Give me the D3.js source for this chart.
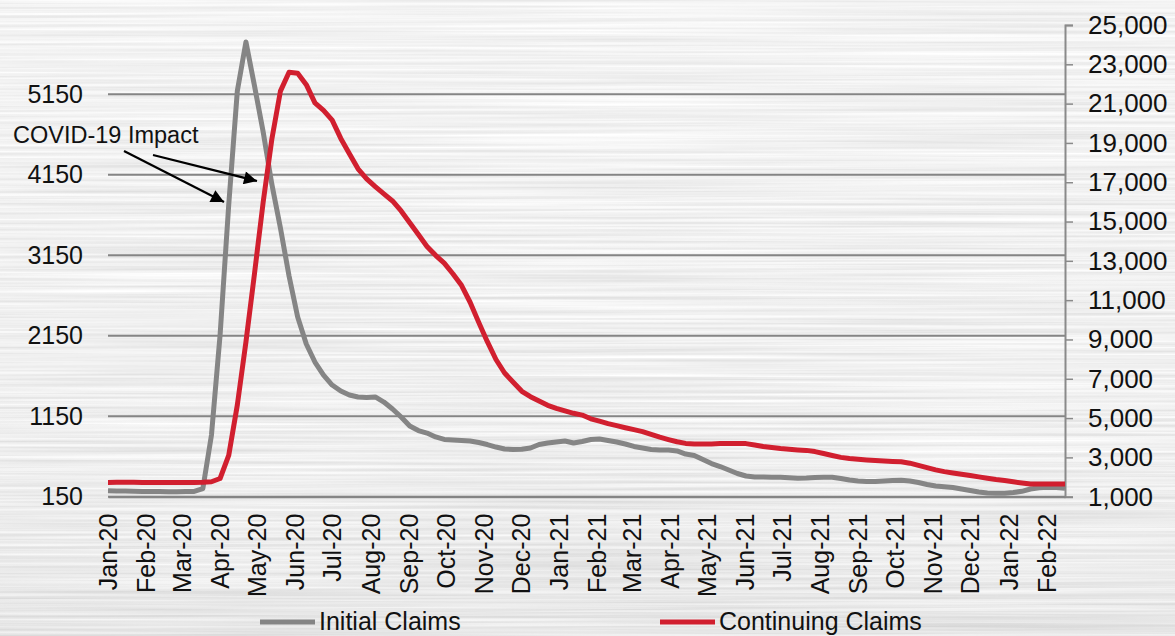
<!DOCTYPE html>
<html>
<head>
<meta charset="utf-8">
<script src="https://cdn.jsdelivr.net/npm/d3@7"></script>
<style>
  html, body { margin: 0; padding: 0; background: #dcdcdc; }
  svg { display: block; }
  text { font-family: "Liberation Sans", Arial, sans-serif; fill: #111; }
</style>
</head>
<body>
<svg id="chart" width="1175" height="636"></svg>
<script>
// Weekly series (4-week averages, thousands), first week starting 2020-01-01
const firstWeek = new Date(2020, 0, 1);

const initialClaims = [
  225, 222, 220, 218, 216, 215, 214, 213, 213, 214, 216, 250,
  916, 2159, 3773, 5190, 5800, 5250, 4680, 4034, 3488, 2892, 2382, 2047,
  1823, 1661, 1537, 1463, 1413, 1389, 1382, 1389, 1326, 1240, 1140, 1028,
  972, 941, 892, 861, 854, 848, 842, 823, 798, 767, 743, 736,
  739, 755, 798, 817, 830, 842, 817, 836, 861, 867, 848, 830,
  805, 774, 755, 736, 730, 730, 718, 680, 662, 612, 562, 525,
  482, 438, 407, 395, 395, 391, 391, 385, 379, 382, 389, 391,
  391, 376, 357, 345, 339, 339, 345, 351, 354, 345, 326, 302,
  283, 273, 264, 246, 227, 208, 196, 192, 192, 202, 217, 246,
  261, 267, 264, 254
];

const continuingClaims = [
  1725, 1730, 1735, 1730, 1728, 1725, 1722, 1722, 1720, 1722, 1725, 1730,
  1760, 1926, 3097, 5667, 8873, 12384, 15997, 19183, 21636, 22600, 22550, 21965,
  21035, 20654, 20159, 19229, 18450, 17682, 17173, 16776, 16405, 16048, 15537, 14934,
  14339, 13733, 13280, 12883, 12344, 11753, 10893, 9870, 8888, 7982, 7295, 6827,
  6364, 6089, 5870, 5651, 5494, 5366, 5244, 5153, 4964, 4842, 4715, 4613,
  4511, 4415, 4313, 4170, 4028, 3906, 3794, 3712, 3687, 3682, 3682, 3702,
  3707, 3712, 3702, 3626, 3550, 3499, 3448, 3412, 3382, 3356, 3295, 3198,
  3097, 3000, 2939, 2903, 2873, 2842, 2817, 2796, 2776, 2705, 2593, 2481,
  2364, 2277, 2206, 2140, 2074, 2008, 1941, 1875, 1819, 1758, 1702, 1646,
  1640, 1640, 1640, 1640
];

const leftTicks = [150, 1150, 2150, 3150, 4150, 5150];
const rightTicks = [1000, 3000, 5000, 7000, 9000, 11000, 13000, 15000, 17000, 19000, 21000, 23000, 25000];
const seriesNames = ["Initial Claims", "Continuing Claims"];
const seriesColors = ["#858585", "#d11f2f"];
const annotationText = "COVID-19 Impact";

const weeks = initialClaims.map((_, i) => d3.timeDay.offset(firstWeek, 7 * i));
const monthTicks = d3.timeMonth.range(new Date(2020, 0, 1), new Date(2022, 1, 2));

const svg = d3.select("#chart");
const W = 1175, H = 636;
const plot = { left: 108, right: 1065, top: 25, bottom: 496.7 };

// ---- brushed metal backdrop ----
const defs = svg.append("defs");
const f = defs.append("filter").attr("id", "brushed")
  .attr("x", 0).attr("y", 0).attr("width", "100%").attr("height", "100%")
  .attr("filterUnits", "userSpaceOnUse");
f.append("feTurbulence").attr("type", "fractalNoise")
  .attr("baseFrequency", "0.0025 0.32").attr("numOctaves", 3).attr("seed", 11)
  .attr("result", "noise");
f.append("feColorMatrix").attr("in", "noise").attr("type", "matrix")
  .attr("values", "0.38 0 0 0 0.68  0.38 0 0 0 0.68  0.38 0 0 0 0.68  0 0 0 0 1");

const shade = defs.append("linearGradient").attr("id", "shade")
  .attr("x1", 0).attr("y1", 0).attr("x2", 0).attr("y2", 1);
shade.append("stop").attr("offset", "0%").attr("stop-color", "#fff").attr("stop-opacity", 0.25);
shade.append("stop").attr("offset", "55%").attr("stop-color", "#fff").attr("stop-opacity", 0.0);
shade.append("stop").attr("offset", "100%").attr("stop-color", "#000").attr("stop-opacity", 0.04);

svg.append("rect").attr("width", W).attr("height", H).attr("fill", "#dadada");
svg.append("rect").attr("width", W).attr("height", H).attr("filter", "url(#brushed)");
svg.append("rect").attr("width", W).attr("height", H).attr("fill", "url(#shade)");

// ---- scales ----
const x = d3.scaleTime()
  .domain([new Date(2020, 0, 1), new Date(2022, 1, 16)])
  .range([plot.left, plot.right]);
const yL = d3.scaleLinear().domain([150, 6010]).range([plot.bottom, plot.top]);
const yR = d3.scaleLinear().domain([1000, 25000]).range([plot.bottom, plot.top]);

// ---- gridlines (left axis) ----
svg.append("g")
  .selectAll("line").data(leftTicks).join("line")
  .attr("x1", plot.left).attr("x2", plot.right)
  .attr("y1", d => yL(d)).attr("y2", d => yL(d))
  .attr("stroke", "#858585").attr("stroke-width", 2);

// ---- left axis labels ----
const leftAxis = d3.axisLeft(yL).tickValues(leftTicks).tickFormat(d3.format("d")).tickSize(0).tickPadding(25);
const gL = svg.append("g").attr("transform", `translate(${plot.left},0)`).call(leftAxis);
gL.select(".domain").remove();
gL.selectAll("text").attr("font-size", 25).attr("font-family", "'Liberation Sans', Arial, sans-serif").attr("fill", "#111");

// ---- right axis ----
const rightAxis = d3.axisRight(yR).tickValues(rightTicks).tickFormat(d3.format(",")).tickSize(8).tickPadding(15);
const gR = svg.append("g").attr("transform", `translate(${plot.right},0)`).call(rightAxis);
gR.select(".domain").attr("stroke", "#8a8a8a").attr("stroke-width", 2);
gR.selectAll(".tick line").attr("stroke", "#8a8a8a").attr("stroke-width", 1.5);
gR.selectAll("text").attr("font-size", 26).attr("font-family", "'Liberation Sans', Arial, sans-serif").attr("fill", "#111");

// ---- bottom axis ----
const bottomAxis = d3.axisBottom(x).tickValues(monthTicks).tickFormat(d3.timeFormat("%b-%y")).tickSize(0);
const gB = svg.append("g").attr("transform", `translate(0,${plot.bottom})`).call(bottomAxis);
gB.select(".domain").attr("stroke", "#858585").attr("stroke-width", 2);
gB.selectAll("text")
  .attr("font-size", 25).attr("font-family", "'Liberation Sans', Arial, sans-serif").attr("fill", "#111")
  .attr("text-anchor", "end")
  .attr("transform", "translate(0,17) rotate(-90)")
  .attr("x", 0).attr("y", 0).attr("dy", "0.35em");

// ---- series lines ----
const lineL = d3.line().x((d, i) => x(weeks[i])).y(d => yL(d));
const lineR = d3.line().x((d, i) => x(weeks[i])).y(d => yR(d));

svg.append("path").datum(initialClaims)
  .attr("d", lineL).attr("fill", "none")
  .attr("stroke", seriesColors[0]).attr("stroke-width", 5)
  .attr("stroke-linejoin", "round").attr("stroke-linecap", "butt");
svg.append("path").datum(continuingClaims)
  .attr("d", lineR).attr("fill", "none")
  .attr("stroke", seriesColors[1]).attr("stroke-width", 5)
  .attr("stroke-linejoin", "round").attr("stroke-linecap", "butt");

// ---- annotation ----
defs.append("marker").attr("id", "arrowHead")
  .attr("viewBox", "0 0 10 10").attr("refX", 10).attr("refY", 5)
  .attr("markerUnits", "userSpaceOnUse")
  .attr("markerWidth", 18).attr("markerHeight", 13).attr("orient", "auto")
  .append("path").attr("d", "M0,0 L10,5 L0,10 Z").attr("fill", "#000");

svg.append("text").text(annotationText)
  .attr("x", 13).attr("y", 143)
  .attr("font-family", "Lato, 'Open Sans', sans-serif")
  .attr("font-size", 23.5).attr("fill", "#000");

const arrows = [
  [[124, 151], [224, 202]],
  [[153, 155], [257, 181]]
];
svg.append("g").selectAll("line").data(arrows).join("line")
  .attr("x1", d => d[0][0]).attr("y1", d => d[0][1])
  .attr("x2", d => d[1][0]).attr("y2", d => d[1][1])
  .attr("stroke", "#000").attr("stroke-width", 2.2)
  .attr("marker-end", "url(#arrowHead)");

// ---- legend ----
const legendItems = [
  { name: seriesNames[0], color: seriesColors[0], x: 260 },
  { name: seriesNames[1], color: seriesColors[1], x: 660 }
];
const lg = svg.append("g").selectAll("g").data(legendItems).join("g")
  .attr("transform", d => `translate(${d.x},622)`);
lg.append("line").attr("x1", 0).attr("x2", 55).attr("y1", 0).attr("y2", 0)
  .attr("stroke", d => d.color).attr("stroke-width", 5);
lg.append("text").text(d => d.name)
  .attr("x", 59).attr("y", 8)
  .attr("font-size", 25).attr("fill", "#111");
</script>
</body>
</html>
